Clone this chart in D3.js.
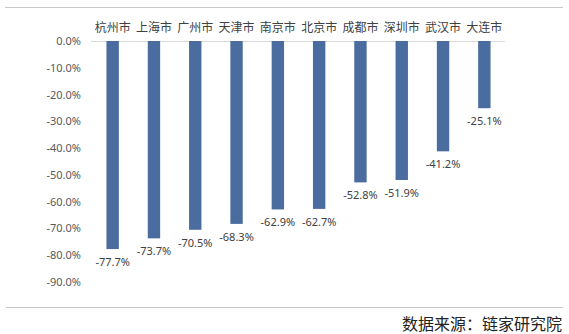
<!DOCTYPE html>
<html>
<head>
<meta charset="utf-8">
<script src="https://cdn.jsdelivr.net/npm/d3@7"></script>
<style>
  html, body { margin: 0; padding: 0; background: #fff; }
  svg { display: block; }
  text { font-family: "Microsoft YaHei", "Noto Sans CJK SC", sans-serif; }
</style>
</head>
<body>
<svg id="chart" width="569" height="334"></svg>
<script>
// City names and year-on-year change (%)
const cities = ["杭州市", "上海市", "广州市", "天津市", "南京市", "北京市", "成都市", "深圳市", "武汉市", "大连市"];
const changes = [-77.7, -73.7, -70.5, -68.3, -62.9, -62.7, -52.8, -51.9, -41.2, -25.1];
const yTicks = [0, -10, -20, -30, -40, -50, -60, -70, -80, -90];
const sourceNote = "数据来源：链家研究院";

const svg = d3.select("#chart");

const plot = { left: 92, right: 505, top: 41, bottom: 282 };

// percentage with a plain hyphen for negatives
const pct = d => d3.formatLocale({ decimal: ".", thousands: ",", grouping: [3], currency: ["", ""], minus: "-" })
  .format(".1f")(d) + "%";

const x = d3.scaleBand()
  .domain(cities)
  .range([plot.left, plot.right])
  .paddingInner(0.7)
  .paddingOuter(0.35);

const y = d3.scaleLinear()
  .domain([0, -90])
  .range([plot.top, plot.bottom]);

// frame rules above and below the chart
svg.append("line")
  .attr("x1", 5).attr("x2", 563).attr("y1", 7.5).attr("y2", 7.5)
  .attr("stroke", "#c8c8c8").attr("stroke-width", 1.2);
svg.append("line")
  .attr("x1", 6).attr("x2", 563).attr("y1", 307.5).attr("y2", 307.5)
  .attr("stroke", "#c8c8c8").attr("stroke-width", 1.2);

// y axis labels
const yAxis = d3.axisLeft(y)
  .tickValues(yTicks)
  .tickSize(0)
  .tickPadding(0)
  .tickFormat(pct);

const gy = svg.append("g")
  .attr("transform", `translate(${plot.left - 11},0)`)
  .call(yAxis);
gy.select(".domain").remove();
gy.selectAll("text")
  .attr("fill", "#595959")
  .style("font-size", "11px")
  .style("font-family", "\"Microsoft YaHei\", \"Noto Sans\", sans-serif");

// zero baseline
svg.append("line")
  .attr("x1", plot.left - 1).attr("x2", plot.right)
  .attr("y1", y(0) + 0.5).attr("y2", y(0) + 0.5)
  .attr("stroke", "#d9d9d9").attr("stroke-width", 1);

// city category labels across the top
const gx = svg.append("g")
  .attr("transform", `translate(0,${y(0) - 9})`)
  .call(d3.axisTop(x).tickSize(0).tickPadding(0));
gx.select(".domain").remove();
gx.selectAll("text")
  .attr("fill", "#404040")
  .style("font-size", "12px")
  .style("font-family", "\"Noto Sans CJK SC\", sans-serif");

// bars
svg.append("g").selectAll("rect")
  .data(changes)
  .join("rect")
  .attr("x", (d, i) => x(cities[i]))
  .attr("width", x.bandwidth())
  .attr("y", y(0))
  .attr("height", d => y(d) - y(0))
  .attr("fill", "#4a6c9f");

// value labels under each bar
svg.append("g").selectAll("text")
  .data(changes)
  .join("text")
  .attr("x", (d, i) => x(cities[i]) + x.bandwidth() / 2)
  .attr("y", d => y(d) + 17)
  .attr("text-anchor", "middle")
  .attr("fill", "#404040")
  .style("font-size", "11px")
  .style("font-family", "\"Microsoft YaHei\", \"Noto Sans\", sans-serif")
  .text(pct);

// source note
svg.append("text")
  .attr("x", 562)
  .attr("y", 330)
  .attr("text-anchor", "end")
  .attr("fill", "#222")
  .style("font-size", "16px")
  .style("font-family", "\"Noto Sans CJK SC\", sans-serif")
  .text(sourceNote);
</script>
</body>
</html>
